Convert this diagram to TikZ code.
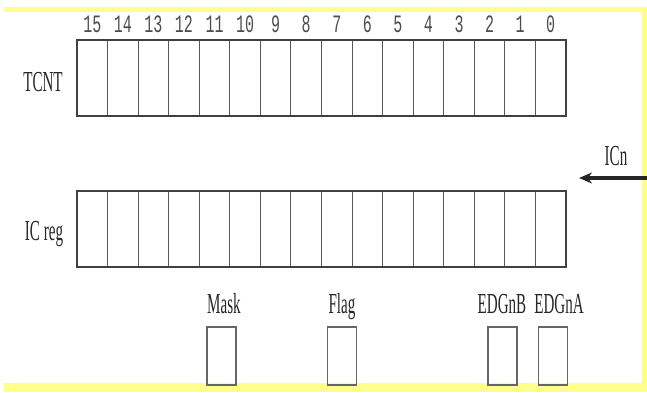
\documentclass[tikz,border=0pt]{standalone}
\usepackage{fontspec}
\usepackage{graphicx}
\setmainfont{Liberation Serif}
\newfontfamily\bitfont{Liberation Mono}
\usetikzlibrary{arrows.meta}
\newcommand\cond[1]{\scalebox{0.52}[1]{#1}}
\newcommand\condbit[1]{\scalebox{0.6}[1]{#1}}
\definecolor{bordery}{HTML}{FFFF8C}
\begin{document}
\begin{tikzpicture}[x=1pt,y=-1pt,
  cell/.style={draw=black!65, line width=0.9pt, minimum width=30.56pt, minimum height=76pt, inner sep=0pt, outer sep=0pt},
  frame/.style={draw=black!75, line width=1.6pt},
  lbl/.style={inner sep=0pt, anchor=base, font=\fontsize{29}{29}\selectfont, text=black!85},
  bitlbl/.style={inner sep=0pt, anchor=base, font=\bitfont\fontsize{25}{25}\selectfont, text=black!70},
  flagbox/.style={draw=black!60, line width=1.2pt, minimum width=29pt, minimum height=58pt, inner sep=0pt},
  ysd/.style={fill=bordery, draw=none}]
\useasboundingbox (0,0) rectangle (647,392);
% yellow border
\fill[ysd] (4,7) rectangle (647,12);
\fill[ysd] (642,7) rectangle (647,392);
\fill[ysd] (4,383) rectangle (647,392);
% registers
\foreach \b [count=\i from 0] in {15,14,...,0} {
  \node[cell] (tc\b) at ({77+30.56*(\i+0.5)},78) {};
  \node[cell] (ic\b) at ({77+30.56*(\i+0.5)},229) {};
  \node[bitlbl] (bit\b) at ({77+30.56*(\i+0.5)},32) {\condbit{\b}};
}
\draw[frame] (tc15.north west) rectangle (tc0.south east);
\draw[frame] (ic15.north west) rectangle (ic0.south east);
% labels
\node[lbl] (tcntlbl) at (43,91) {\cond{TCNT}};
\node[lbl] (icreglbl) at (44,240) {\cond{IC reg}};
\node[lbl] (icnlbl) at (616,165) {\cond{ICn}};
% ICn arrow
\coordinate (icnsrc) at (647,178);
\coordinate (icntip) at (579,178);
\draw[line width=3.2pt, black!85, -{Stealth[length=13pt,width=11pt]}] (icnsrc) -- (icntip);
% flag bits
\node[flagbox] (mask) at (221.5,356) {};
\node[flagbox] (flag) at (342,356) {};
\node[flagbox] (edgnb) at (502.5,356) {};
\node[flagbox] (edgna) at (553,356) {};
\node[lbl] (masklbl) at (224,313) {\cond{Mask}};
\node[lbl] (flaglbl) at (342,313) {\cond{Flag}};
\node[lbl] (edgnblbl) at (502,313) {\cond{EDGnB}};
\node[lbl] (edgnalbl) at (559,313) {\cond{EDGnA}};
\end{tikzpicture}
\end{document}
